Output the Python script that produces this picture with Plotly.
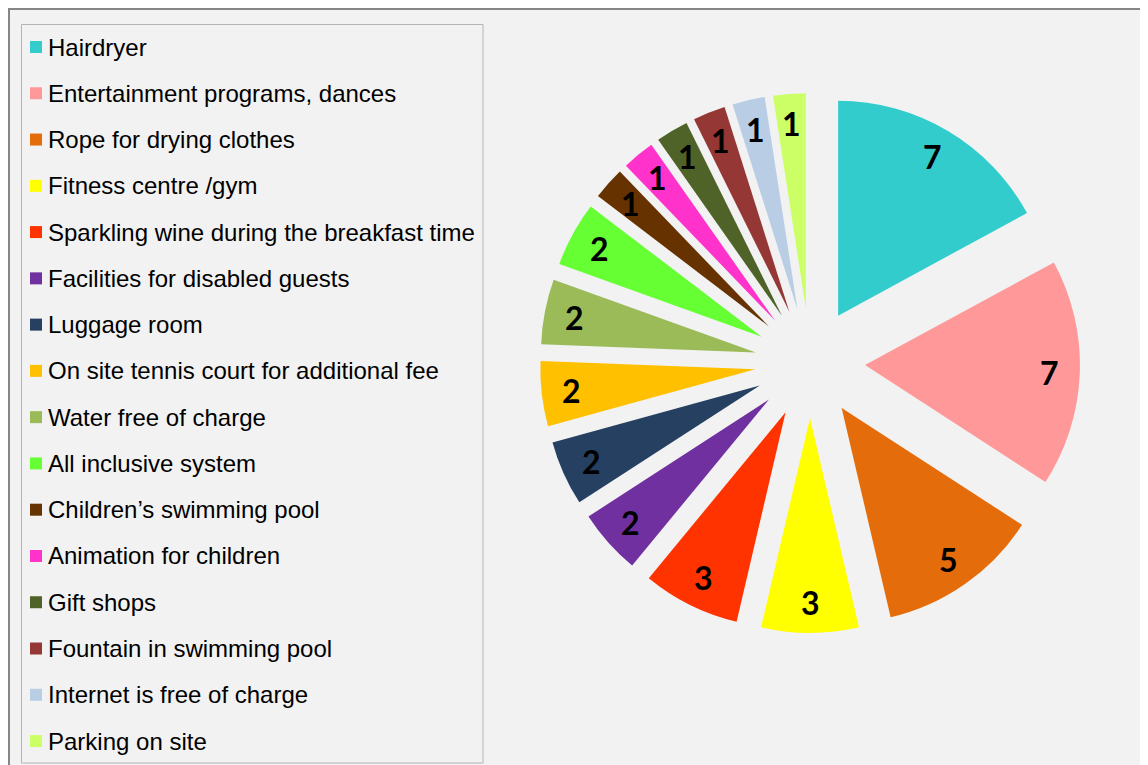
import math
import plotly.graph_objects as go

W, H = 1148, 765

categories = [
    'Hairdryer',
    'Entertainment programs, dances',
    'Rope for drying clothes',
    'Fitness centre /gym',
    'Sparkling wine during the breakfast time',
    'Facilities for disabled guests',
    'Luggage room',
    'On site tennis court for additional fee',
    'Water free of charge',
    'All inclusive system',
    'Children\u2019s swimming pool',
    'Animation for children',
    'Gift shops',
    'Fountain in swimming pool',
    'Internet is free of charge',
    'Parking on site',
]
counts = [7, 7, 5, 3, 3, 2, 2, 2, 2, 2, 1, 1, 1, 1, 1, 1]
colors = [
    '#33CCCC', '#FF9999', '#E46C0A', '#FFFF00', '#FF3300', '#7030A0',
    '#254061', '#FFC000', '#9BBB59', '#66FF33', '#663300', '#FF33CC',
    '#4F6228', '#953735', '#B9CDE5', '#CCFF66',
]

BG = '#F2F2F2'
PULL = 0.256
LABEL_R = 0.86  # label distance from slice tip, as fraction of radius

# pie box in pixels (left, right, top, bottom)
PIE_BOX = (532, 1072, 85, 625)

def px(x):
    return x / W

def py(y):
    return 1 - y / H

fig = go.Figure()
fig.add_trace(go.Pie(
    labels=categories,
    values=counts,
    sort=False,
    direction='clockwise',
    rotation=0,
    pull=[PULL] * len(counts),
    marker=dict(colors=colors, line=dict(width=0)),
    textinfo='none',
    hoverinfo='label+value',
    domain=dict(x=[px(PIE_BOX[0]), px(PIE_BOX[1])],
                y=[py(PIE_BOX[3]), py(PIE_BOX[2])]),
    showlegend=False,
))

shapes = [
    # chart area with grey frame
    dict(type='rect', xref='paper', yref='paper',
         x0=px(1), x1=px(W + 10), y0=py(H + 10), y1=py(1),
         fillcolor=BG, line=dict(color='#868686', width=2), layer='below'),
    # legend frame
    dict(type='rect', xref='paper', yref='paper',
         x0=px(13.5), x1=px(475), y0=py(755), y1=py(16.5),
         fillcolor=BG, line=dict(color='#B4B4B4', width=1), layer='below'),
]
annotations = []

# hand-made legend so the rows can spread over the full height
row0, step = 39, 46.27
for i, (name, col) in enumerate(zip(categories, colors)):
    yc = row0 + i * step
    shapes.append(dict(type='rect', xref='paper', yref='paper',
                       x0=px(22), x1=px(34), y0=py(yc + 6), y1=py(yc - 6),
                       fillcolor=col, line=dict(width=0)))
    annotations.append(dict(xref='paper', yref='paper', x=px(38), y=py(yc),
                            xanchor='left', yanchor='middle', text=name,
                            showarrow=False,
                            font=dict(family='Liberation Sans', size=24, color='black')))

# value labels near the outer rim of each exploded slice
cx = (PIE_BOX[0] + PIE_BOX[1]) / 2
cy = (PIE_BOX[2] + PIE_BOX[3]) / 2
half = (PIE_BOX[1] - PIE_BOX[0]) / 2
r = half / (1 + PULL)
total = sum(counts)
acc = 0
for c in counts:
    mid = (acc + c / 2) / total * 2 * math.pi
    acc += c
    dist = r * (PULL + LABEL_R)
    lx = cx + dist * math.sin(mid)
    ly = cy - dist * math.cos(mid)
    annotations.append(dict(xref='paper', yref='paper', x=px(lx), y=py(ly),
                            xanchor='center', yanchor='middle', text=str(c),
                            showarrow=False,
                            font=dict(family='Lato', size=32, color='black',
                                      weight='bold')))

fig.update_layout(
    width=W, height=H,
    margin=dict(l=0, r=0, t=0, b=0),
    paper_bgcolor='white',
    plot_bgcolor=BG,
    shapes=shapes,
    annotations=annotations,
)

fig.write_html('out.html')
